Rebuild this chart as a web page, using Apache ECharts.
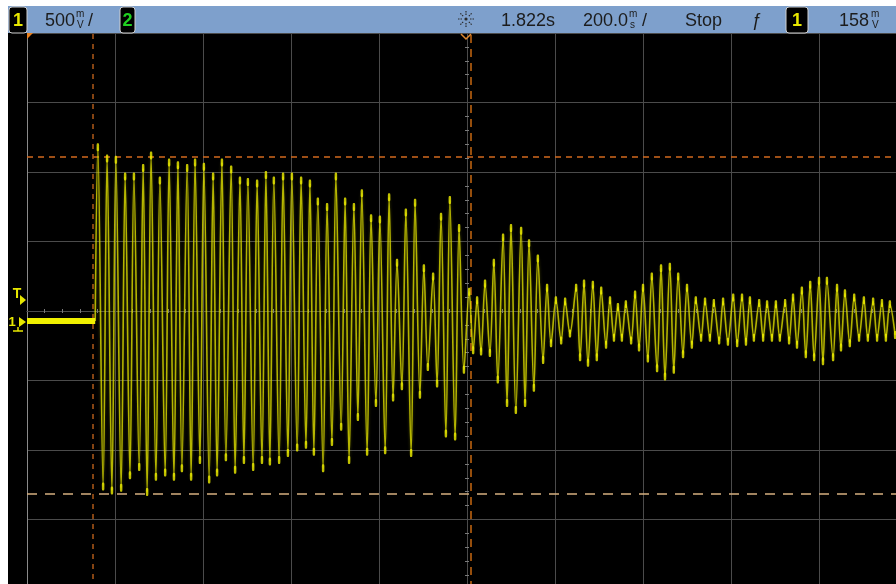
<!DOCTYPE html>
<html>
<head>
<meta charset="utf-8">
<style>
  html, body { margin: 0; padding: 0; background: #ffffff; overflow: hidden; }
  /* The 10 x 8 division screen runs a little past the right and bottom edges of the window */
  #chart { width: 907px; height: 589px; }
</style>
<script src="https://cdn.jsdelivr.net/npm/echarts@6/dist/echarts.min.js"></script>
</head>
<body>
<div id="chart"></div>
<script>
// Channel 1 capture: 500 mV/div vertical, 200 ms/div horizontal, trigger at t = 0 ms (1.822 s).
// Idle level before the burst starts.
const baselineTimesMs = [-1000, -845];
const baselineVolts = [0, 0];

// Successive peaks and troughs of the ringing signal (time in ms from trigger, level in volts).
const traceTimesMs = [
  -845, -839, -827, -818, -807, -798, -786, -777, -766, -757, -745, -736, -727, -718, -707, -698,
  -686, -677, -666, -657, -648, -636, -627, -618, -607, -598, -586, -577, -568, -557, -548, -536,
  -527, -516, -507, -498, -486, -477, -466, -457, -448, -439, -427, -418, -407, -398, -386, -377,
  -366, -357, -348, -339, -327, -318, -307, -298, -286, -277, -268, -257, -248, -239, -227, -218,
  -207, -198, -186, -177, -168, -159, -148, -139, -127, -118, -107, -98, -89, -77, -68, -59,
  -48, -39, -27, -18, -7, 5, 14, 23, 32, 41, 52, 61, 70, 82, 91, 100,
  111, 123, 132, 141, 152, 161, 173, 182, 191, 202, 214, 223, 234, 248, 257, 266,
  275, 286, 295, 305, 316, 325, 334, 343, 352, 361, 373, 382, 391, 400, 411, 420,
  432, 441, 450, 461, 470, 480, 491, 500, 511, 520, 532, 541, 552, 561, 573, 582,
  593, 605, 614, 625, 634, 643, 652, 664, 673, 682, 693, 702, 711, 723, 732, 741,
  750, 761, 770, 780, 789, 800, 809, 818, 832, 841, 850, 859, 870, 880, 891, 902,
  911, 923, 932, 943, 952, 961, 973
];
const traceVolts = [
  0, 1.25, -1.19, 1.17, -1.22, 1.16, -1.20, 1.04, -1.11, 1.04, -1.05, 1.10, -1.23, 1.19, -1.12, 1.01,
  -1.09, 1.14, -1.12, 1.12, -1.06, 1.10, -1.12, 1.14, -1.00, 1.11, -1.14, 1.04, -1.09, 1.14, -0.98, 1.09,
  -1.07, 1.01, -1.00, 1.00, -1.05, 0.99, -1.00, 1.05, -1.01, 1.01, -1.00, 1.04, -0.95, 1.04, -0.91, 1.01,
  -0.89, 0.99, -0.94, 0.86, -1.06, 0.82, -0.87, 1.04, -0.76, 0.86, -1.00, 0.82, -0.69, 0.92, -0.94, 0.74,
  -0.59, 0.73, -0.93, 0.89, -0.55, 0.42, -0.47, 0.78, -0.95, 0.85, -0.53, 0.38, -0.33, 0.32, -0.45, 0.75,
  -0.81, 0.87, -0.83, 0.67, -0.35, 0.21, -0.21, 0.15, -0.22, 0.27, -0.23, 0.42, -0.42, 0.60, -0.59, 0.67,
  -0.64, 0.65, -0.59, 0.56, -0.48, 0.45, -0.28, 0.24, -0.16, 0.15, -0.14, 0.14, -0.09, 0.24, -0.26, 0.27,
  -0.30, 0.26, -0.26, 0.22, -0.17, 0.15, -0.12, 0.10, -0.12, 0.12, -0.14, 0.19, -0.19, 0.24, -0.27, 0.32,
  -0.34, 0.38, -0.40, 0.39, -0.35, 0.32, -0.24, 0.24, -0.17, 0.15, -0.12, 0.14, -0.12, 0.13, -0.14, 0.14,
  -0.15, 0.17, -0.16, 0.17, -0.15, 0.15, -0.12, 0.13, -0.12, 0.12, -0.12, 0.12, -0.12, 0.13, -0.14, 0.17,
  -0.17, 0.22, -0.24, 0.26, -0.26, 0.29, -0.29, 0.29, -0.26, 0.24, -0.19, 0.20, -0.16, 0.17, -0.12, 0.15,
  -0.12, 0.14, -0.12, 0.13, -0.12, 0.12, -0.10
];

// Cursor positions
const cursorVolts = [1.18, -1.24];
const cursorTimesMs = [-850, 9];

// Status bar readouts
const ch1Scale = '500';
const timeDelay = '1.822s';
const timeScale = '200.0';
const runState = 'Stop';
const trigLevel = '158';

const TRACE = '#e8e800';
const FONT = '"Liberation Sans", Arial, sans-serif';

const pairs = (xs, ys) => xs.map((x, i) => [x, ys[i]]);

// Screen geometry: 10 x 8 divisions starting at (27, 33), 88 x 69.5 px each
const grid = { left: 27, top: 33, width: 880, height: 556 };

const graticuleX = { type: 'value', min: -5, max: 5, interval: 1, gridIndex: 0,
  axisLine: { show: false }, axisTick: { show: false }, axisLabel: { show: false },
  splitLine: { show: true, lineStyle: { color: '#4b4b4b', width: 1 } } };
const centreTickX = (inside) => ({ type: 'value', min: -5, max: 5, interval: 1, position: 'bottom', gridIndex: 0,
  axisLine: { show: true, onZero: true, onZeroAxisIndex: 0, lineStyle: { color: '#4b4b4b' } },
  axisTick: { show: false, inside: inside },
  minorTick: { show: true, splitNumber: 5, length: 2, lineStyle: { color: '#7a7a7a', width: 1 } },
  axisLabel: { show: false }, splitLine: { show: false } });
const graticuleY = { type: 'value', min: -4, max: 4, interval: 1, position: 'left',
  axisLine: { show: true, onZero: false, lineStyle: { color: '#8a8a8a' } },
  axisTick: { show: false }, axisLabel: { show: false },
  splitLine: { show: true, lineStyle: { color: '#4b4b4b', width: 1 } } };
const centreTickY = (inside) => ({ type: 'value', min: -4, max: 4, interval: 1, position: 'left',
  axisLine: { show: true, onZero: true, onZeroAxisIndex: 0, lineStyle: { color: '#4b4b4b' } },
  axisTick: { show: false, inside: inside },
  minorTick: { show: true, splitNumber: 5, length: 2, lineStyle: { color: '#7a7a7a', width: 1 } },
  axisLabel: { show: false }, splitLine: { show: false } });

// Status bar pieces
function txt(x, y, s, size, fill, extra) {
  return Object.assign({ type: 'text', x: x, y: y, z: 110,
    style: { text: s, font: size + 'px ' + FONT, fill: fill || '#1c1c1c', verticalAlign: 'middle', align: 'left' } }, extra || {});
}
function stackedUnit(x, top, bottom) {
  return [
    txt(x, 14, top, 10, '#1c1c1c'),
    txt(x + 1, 25, bottom, 10, '#1c1c1c')
  ];
}
function badge(x, w, label, color) {
  return [
    { type: 'rect', z: 110, shape: { x: x, y: 7, width: w, height: 26, r: 3 },
      style: { fill: '#000000', stroke: '#d0d0d0', lineWidth: 1 } },
    txt(x + w / 2, 21, label, 18, color, { style: { text: label, font: 'bold 18px ' + FONT, fill: color, align: 'center', verticalAlign: 'middle' } })
  ];
}
function sunIcon(cx, cy) {
  const parts = [{ type: 'circle', z: 110, shape: { cx: cx, cy: cy, r: 1.6 }, style: { fill: '#2a2a2a' } }];
  for (let k = 0; k < 8; k++) {
    const a = k * Math.PI / 4;
    parts.push({ type: 'line', z: 110,
      shape: { x1: cx + Math.cos(a) * 4, y1: cy + Math.sin(a) * 4, x2: cx + Math.cos(a) * 8, y2: cy + Math.sin(a) * 8 },
      style: { stroke: '#2a2a2a', lineWidth: 1.2, lineDash: [1.5, 1] } });
  }
  return parts;
}

const graphics = [].concat(
  [
    { type: 'rect', z: 100, shape: { x: 0, y: 0, width: 907, height: 6 }, style: { fill: '#ffffff' } },
    { type: 'rect', z: 100, shape: { x: 0, y: 0, width: 8, height: 589 }, style: { fill: '#ffffff' } },
    { type: 'rect', z: 100, shape: { x: 8, y: 6, width: 899, height: 27 }, style: { fill: '#7ea0cc' } }
  ],
  badge(9, 18, '1', TRACE),
  [txt(45, 21, ch1Scale, 18)],
  stackedUnit(76, 'm', 'V'),
  [txt(88, 21, '/', 18)],
  badge(120, 15, '2', '#20d020'),
  sunIcon(466, 19),
  [txt(501, 21, timeDelay, 18), txt(583, 21, timeScale, 18)],
  stackedUnit(629, 'm', 's'),
  [txt(642, 21, '/', 18), txt(685, 21, runState, 18), txt(752, 21, 'ƒ', 18)],
  badge(786, 22, '1', TRACE),
  [txt(839, 21, trigLevel, 18)],
  stackedUnit(871, 'm', 'V'),
  [
    // Left edge markers: trigger level and channel 1 ground reference
    txt(17, 294, 'T', 14, TRACE, { style: { text: 'T', font: 'bold 14px ' + FONT, fill: TRACE, align: 'center', verticalAlign: 'middle' } }),
    { type: 'polygon', z: 110, shape: { points: [[20, 295], [26, 300], [20, 305]] }, style: { fill: TRACE } },
    txt(12, 322, '1', 13, TRACE, { style: { text: '1', font: 'bold 13px ' + FONT, fill: TRACE, align: 'center', verticalAlign: 'middle' } }),
    { type: 'polygon', z: 110, shape: { points: [[19, 317], [26, 322], [19, 327]] }, style: { fill: TRACE } },
    { type: 'polyline', z: 110, shape: { points: [[13, 331], [23, 331]] }, style: { stroke: TRACE, lineWidth: 1.5 } },
    { type: 'polyline', z: 110, shape: { points: [[18, 327], [18, 331]] }, style: { stroke: TRACE, lineWidth: 1.5 } },
    // Orange position markers along the top edge
    { type: 'polygon', z: 110, shape: { points: [[27, 33], [33, 33], [27, 39]] }, style: { fill: '#e8801e' } },
    { type: 'polyline', z: 110, shape: { points: [[461, 34], [466, 39], [471, 34]] }, style: { stroke: '#e08a30', lineWidth: 1.5 } }
  ]
);

const chart = echarts.init(document.getElementById('chart'), null, { renderer: 'canvas' });
chart.setOption({
  animation: false,
  backgroundColor: '#000000',
  grid: grid,
  xAxis: [
    graticuleX,
    centreTickX(false),
    centreTickX(true),
    { type: 'value', gridIndex: 0, min: -1000, max: 1000, show: false }
  ],
  yAxis: [
    graticuleY,
    { type: 'value', gridIndex: 0, min: -1.928, max: 2.072, show: false },
    centreTickY(false),
    centreTickY(true)
  ],
  graphic: graphics,
  series: [
    {
      name: 'idle', type: 'line', xAxisIndex: 3, yAxisIndex: 1, z: 6,
      data: pairs(baselineTimesMs, baselineVolts), symbol: 'none',
      lineStyle: { color: '#f0f000', width: 6 }
    },
    {
      name: 'CH1', type: 'line', xAxisIndex: 3, yAxisIndex: 1, z: 5,
      data: pairs(traceTimesMs, traceVolts), symbol: 'none', smooth: 0.35,
      lineStyle: { color: 'rgba(222,222,0,0.78)', width: 1.6,
        shadowBlur: 3, shadowColor: 'rgba(190,190,0,0.45)' },
      markLine: {
        silent: true, symbol: 'none', label: { show: false },
        data: [
          { yAxis: cursorVolts[0], lineStyle: { color: '#d2691e', width: 1.5, type: [6, 5] } },
          { yAxis: cursorVolts[1], lineStyle: { color: '#d6b080', width: 1.5, type: [10, 8] } },
          { xAxis: cursorTimesMs[0], lineStyle: { color: '#b05a18', width: 1.5, type: [5, 5] } },
          { xAxis: cursorTimesMs[1], lineStyle: { color: '#c86810', width: 1.5, type: [8, 6] } }
        ]
      }
    },
    {
      name: 'CH1 peaks', type: 'scatter', xAxisIndex: 3, yAxisIndex: 1, z: 7,
      data: pairs(traceTimesMs.slice(1), traceVolts.slice(1)),
      symbol: 'roundRect', symbolSize: [2.5, 8],
      itemStyle: { color: '#f0f000' }
    }
  ]
});
</script>
</body>
</html>
